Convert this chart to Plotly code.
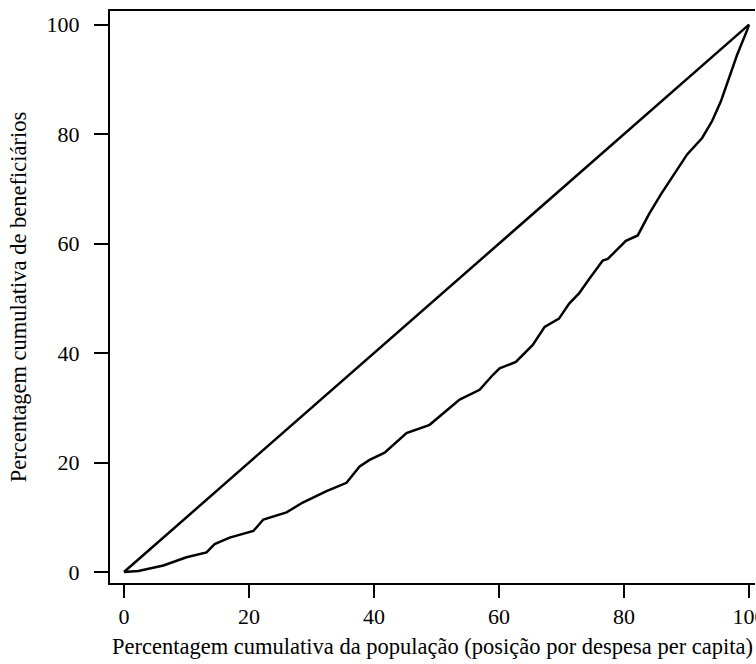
import plotly.graph_objects as go

# Concentration curve
pop_pct = [0, 2.3, 6.3, 10.0, 13.2, 14.5, 16.9, 20.7, 22.3, 26.0, 28.6, 32.4, 35.6, 37.7,
           39.3, 41.7, 45.2, 48.9, 53.7, 56.9, 59.0, 60.1, 62.7, 65.4, 67.3, 69.6, 71.2,
           72.8, 74.4, 76.6, 77.4, 80.3, 82.2, 84.0, 85.9, 88.3, 90.1, 92.5, 94.1, 95.5,
           96.8, 98.1, 99.7, 100]
benef_pct = [0, 0.2, 1.2, 2.7, 3.6, 5.1, 6.3, 7.5, 9.6, 10.9, 12.7, 14.8, 16.3, 19.3,
             20.5, 21.8, 25.4, 26.9, 31.5, 33.3, 36.0, 37.2, 38.4, 41.5, 44.8, 46.3, 49.0,
             50.9, 53.5, 56.9, 57.2, 60.5, 61.5, 65.4, 69.0, 73.3, 76.3, 79.3, 82.4, 86.0,
             90.2, 94.5, 99.0, 100]
equality_x = [0, 100]
equality_y = [0, 100]

x_ticks = [0, 20, 40, 60, 80, 100]
y_ticks = [0, 20, 40, 60, 80, 100]

x_title = "Percentagem cumulativa da população (posição por despesa per capita)"
y_title = "Percentagem cumulativa de beneficiários"

FONT = "Liberation Serif, Times New Roman, serif"

fig = go.Figure()
fig.add_trace(go.Scatter(x=equality_x, y=equality_y, mode="lines",
                         line=dict(color="black", width=2.5), showlegend=False))
fig.add_trace(go.Scatter(x=pop_pct, y=benef_pct, mode="lines",
                         line=dict(color="black", width=2.5), showlegend=False))

fig.update_layout(
    width=774, height=664,
    margin=dict(l=110, r=18, t=9, b=80),
    paper_bgcolor="white", plot_bgcolor="white",
    font=dict(family=FONT, color="black", size=22),
    xaxis=dict(range=[-2.24, 100.96], tickvals=x_ticks, ticks="outside", ticklen=13,
               tickwidth=1.5, tickcolor="black", showline=True, linecolor="black",
               linewidth=2, mirror=True, showgrid=False, zeroline=False,
               tickfont=dict(size=22, family=FONT),
               title=dict(text=x_title, font=dict(size=22.5, family=FONT), standoff=10)),
    yaxis=dict(range=[-2.0, 102.5], tickvals=y_ticks, ticks="outside", ticklen=14,
               tickwidth=1.5, tickcolor="black", showline=True, linecolor="black",
               linewidth=2, showgrid=False, zeroline=False,
               tickfont=dict(size=22, family=FONT), ticklabelstandoff=10,
               title=dict(text=y_title, font=dict(size=22.5, family=FONT), standoff=14)),
)

fig.write_html("out.html", config={"displayModeBar": False},
               post_script="document.body.style.margin='0';document.body.style.overflow='hidden';")
